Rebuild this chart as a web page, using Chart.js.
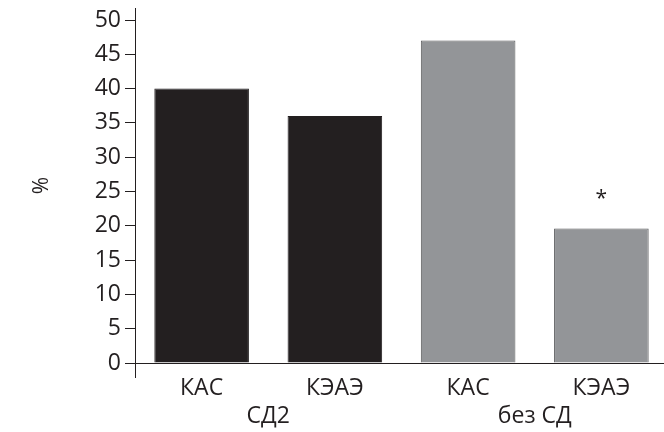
<!doctype html>
<html lang="ru">
  <head>
    <meta charset="utf-8">
    <title>КАС / КЭАЭ</title>
    <script src="https://cdn.jsdelivr.net/npm/chart.js"></script>
    <style>
      html, body { margin: 0; padding: 0; background: #fff; overflow: hidden; }
      #myChart { display: block; }
    </style>
  </head>
  <body>
    <canvas id="myChart" width="668" height="432"></canvas>

    <script>
    // data
    const categories = ['КАС', 'КЭАЭ', 'КАС', 'КЭАЭ'];
    const groups = ['СД2', 'без СД'];
    const percents = [40, 36, 47, 19.6];
    const barColors = ['#231f20', '#231f20', '#939598', '#939598'];
    const borderColors = ['#231f20', '#231f20', '#58595b', '#58595b'];
    const marks = ['', '', '', '*'];
    const markValues = [null, null, null, 24.5];

    const ink = '#231f20';
    const fontFamily = '"Open Sans", "Noto Sans", sans-serif';
    const fontSize = 23;

    // asterisk over the significant bar
    const markPlugin = {
      id: 'marks',
      afterDatasetsDraw(chart) {
        const ctx = chart.ctx;
        const x = chart.scales.x;
        const y = chart.scales.y;
        ctx.save();
        ctx.fillStyle = ink;
        ctx.font = '21px ' + fontFamily;
        ctx.textAlign = 'center';
        ctx.textBaseline = 'middle';
        marks.forEach((m, i) => {
          if (!m) return;
          ctx.fillText(m, x.getPixelForValue(i), y.getPixelForValue(markValues[i]) + 4);
        });
        ctx.restore();
      }
    };

    const myChart = new Chart(document.getElementById('myChart'), {
      type: 'bar',
      data: {
        labels: categories,
        datasets: [{
          data: percents,
          backgroundColor: barColors,
          borderColor: borderColors,
          borderWidth: 1,
          barPercentage: 0.71,
          categoryPercentage: 1
        }]
      },
      options: {
        responsive: false,
        animation: false,
        devicePixelRatio: 1,
        layout: { padding: { top: 8, left: 0, right: 0, bottom: 0 } },
        plugins: {
          legend: { display: false },
          tooltip: { enabled: false }
        },
        scales: {
          x: {
            position: 'bottom',
            weight: 0,
            grid: {
              display: true,
              drawOnChartArea: false,
              drawTicks: true,
              tickLength: 15,
              offset: true,
              tickColor: (c) => c.index === 0 ? ink : 'rgba(0,0,0,0)'
            },
            border: { display: true, color: ink, width: 1 },
            ticks: {
              color: ink,
              padding: -3,
              maxRotation: 0,
              font: { family: fontFamily, size: fontSize }
            },
            afterFit: (s) => { s.height = 41; }
          },
          x2: {
            type: 'category',
            position: 'bottom',
            weight: 1,
            labels: groups,
            offset: true,
            grid: { display: false, drawTicks: false },
            border: { display: false },
            ticks: {
              color: ink,
              padding: -1,
              maxRotation: 0,
              font: { family: fontFamily, size: fontSize }
            },
            afterFit: (s) => { s.height = 28; }
          },
          y: {
            min: 0,
            max: 51.75,
            grid: {
              drawOnChartArea: false,
              drawTicks: true,
              tickLength: 10,
              tickColor: ink
            },
            border: { display: true, color: ink, width: 1 },
            ticks: {
              stepSize: 5,
              includeBounds: false,
              color: ink,
              padding: 4,
              font: { family: fontFamily, size: fontSize }
            },
            title: {
              display: true,
              text: '%',
              color: ink,
              padding: { top: 29, bottom: 0 },
              font: { family: fontFamily, size: 21 }
            },
            afterFit: (s) => {
              s.width = 135;
              s.paddingTop = 0;
              s.paddingBottom = 0;
            }
          }
        }
      },
      plugins: [markPlugin]
    });
    </script>
  </body>
</html>
